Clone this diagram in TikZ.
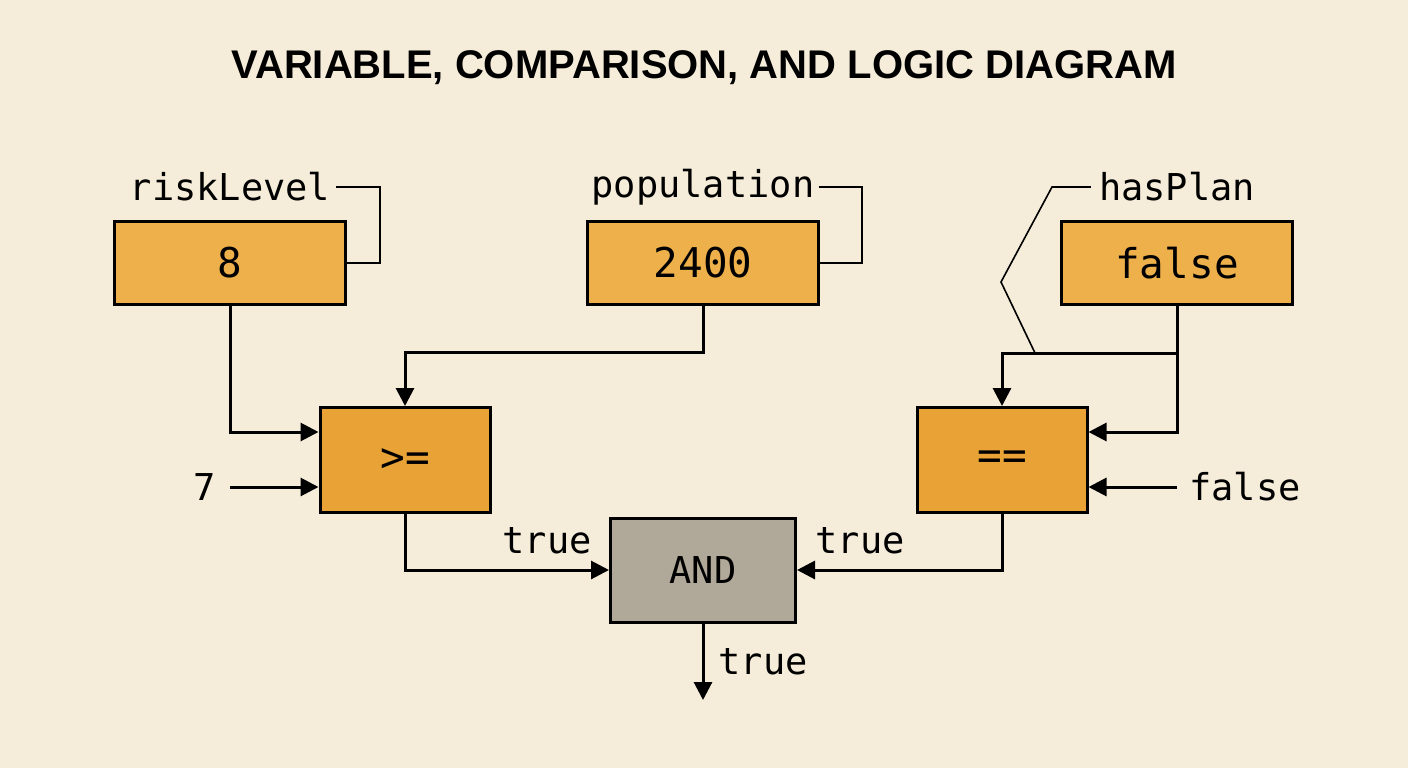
\documentclass[tikz,border=0pt]{standalone}
\usepackage{fontspec}
\setmainfont{Liberation Sans}
\setmonofont{DejaVu Sans Mono}
\definecolor{bgcol}{HTML}{F5EDD9}
\definecolor{varcol}{HTML}{EDB04B}
\definecolor{cmpcol}{HTML}{E8A236}
\definecolor{andcol}{HTML}{B0A898}
\tikzset{
  box/.style={draw=black,line width=3pt,inner sep=0pt,font=\ttfamily\fontsize{41}{41}\selectfont},
  var/.style={box,fill=varcol,minimum width=231pt,minimum height=83pt},
  cmp/.style={box,fill=cmpcol,minimum width=170pt,minimum height=105pt},
  gate/.style={box,fill=andcol,minimum width=185pt,minimum height=104pt,font=\ttfamily\fontsize{37}{37}\selectfont},
  lbl/.style={inner sep=0pt,font=\ttfamily\fontsize{37}{37}\selectfont},
  wire/.style={line width=3pt,-{Triangle[length=18pt,width=18pt]}},
  lead/.style={line width=1.6pt}
}
\usetikzlibrary{arrows.meta}
\begin{document}
\begin{tikzpicture}[x=1pt,y=-1pt]
\fill [bgcol] (0,0) rectangle (1408,768);
\useasboundingbox (0,0) rectangle (1408,768);
\node [font=\bfseries\fontsize{40}{40}\selectfont] (title) at (704,68) {VARIABLE, COMPARISON, AND LOGIC DIAGRAM};
% variables
\node [var] (risk) at (230,263) {8};
\node [var] (pop) at (703,263) {2400};
\node [var] (plan) at (1177,263) {false};
\node [lbl] (riskname) at (230,187) {riskLevel};
\node [lbl] (popname) at (703,187) {population};
\node [lbl] (planname) at (1177,187) {hasPlan};
\draw [lead] (riskname.east) ++(6,0) -- (380,187) |- (risk.east);
\draw [lead] (popname.east) ++(4,0) -- (862,187) |- (pop.east);
\coordinate (split) at (1177,353);
\draw [lead] (planname.west) ++(-8,0) -- (1052,187) -- (1001,282) -- (1035,353);
% comparisons
\node [cmp] (ge) at (405,460) {>=};
\node [cmp] (eq) at (1002,460) {==};
\node [gate] (and) at (703,570) {AND};
\node [lbl] (seven) at (205,487) {7};
\node [lbl] (falseconst) at (1245,487) {false};
\node [lbl] (getrue) at (547,541) {true};
\node [lbl] (eqtrue) at (860,541) {true};
\node [lbl] (andtrue) at (763,662) {true};
\draw [wire,shorten <=14pt] (seven.east) -- (ge.west |- seven);
\draw [wire] (risk.south) |- (ge.west |- 0,432);
\draw [wire] (pop.south) |- (405,352) -- (ge.north);
\draw [wire] (plan.south) -- (split) -| (eq.north);
\draw [wire] (split) |- (eq.east |- 0,432);
\draw [wire,shorten <=12pt] (falseconst.west) -- (eq.east |- falseconst);
\draw [wire] (ge.south) |- (and.west);
\draw [wire] (eq.south) |- (and.east);
\coordinate (out) at (703,700);
\draw [wire] (and.south) -- (out);
\end{tikzpicture}
\end{document}
